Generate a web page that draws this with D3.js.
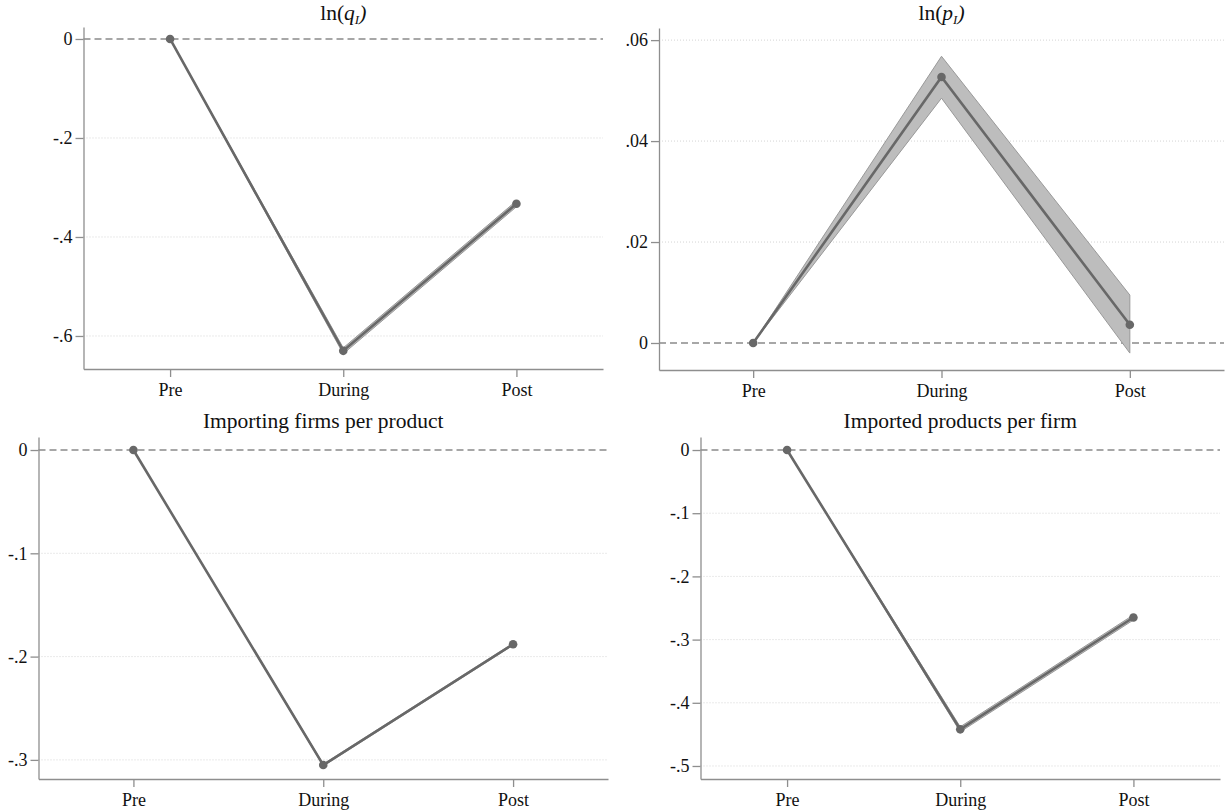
<!DOCTYPE html>
<html>
<head>
<meta charset="utf-8">
<script src="https://cdn.jsdelivr.net/npm/d3@7"></script>
<style>
  body { margin: 0; background: #fff; }
  svg { display: block; font-family: "Liberation Serif", "DejaVu Serif", serif; }
</style>
</head>
<body>
<svg id="chart" width="1227" height="812"></svg>
<script>
// ------------------------------------
// Data
// ------------------------------------
const periods = ["Pre", "During", "Post"];

const qEst = [0, -0.630, -0.333];
const qLo  = [0, -0.636, -0.339];
const qHi  = [0, -0.624, -0.327];
const qTicks = [0, -0.2, -0.4, -0.6];
const qTickLabels = ["0", "-.2", "-.4", "-.6"];

const pEst = [0, 0.0527, 0.0036];
const pLo  = [0, 0.0485, -0.0020];
const pHi  = [0, 0.0568, 0.0095];
const pTicks = [0, 0.02, 0.04, 0.06];
const pTickLabels = ["0", ".02", ".04", ".06"];

const firmsEst = [0, -0.305, -0.188];
const firmsLo  = [0, -0.306, -0.189];
const firmsHi  = [0, -0.304, -0.187];
const firmsTicks = [0, -0.1, -0.2, -0.3];
const firmsTickLabels = ["0", "-.1", "-.2", "-.3"];

const prodEst = [0, -0.442, -0.265];
const prodLo  = [0, -0.446, -0.269];
const prodHi  = [0, -0.438, -0.261];
const prodTicks = [0, -0.1, -0.2, -0.3, -0.4, -0.5];
const prodTickLabels = ["0", "-.1", "-.2", "-.3", "-.4", "-.5"];

// ------------------------------------
// Panels (layout only)
// ------------------------------------
const panels = [
  { title: "q", est: qEst, lo: qLo, hi: qHi, ticks: qTicks, labels: qTickLabels,
    x0: 83.5, x1: 603, y0: 369, y1: 27, dom: [-0.6667, 0.0242], titleY: 20 },
  { title: "p", est: pEst, lo: pLo, hi: pHi, ticks: pTicks, labels: pTickLabels,
    x0: 659, x1: 1224, y0: 370, y1: 28, dom: [-0.00535, 0.0624], titleY: 20 },
  { title: "Importing firms per product", est: firmsEst, lo: firmsLo, hi: firmsHi,
    ticks: firmsTicks, labels: firmsTickLabels,
    x0: 38.5, x1: 608, y0: 779, y1: 437, dom: [-0.3185, 0.0126], titleY: 428 },
  { title: "Imported products per firm", est: prodEst, lo: prodLo, hi: prodHi,
    ticks: prodTicks, labels: prodTickLabels,
    x0: 700.5, x1: 1220, y0: 779, y1: 437, dom: [-0.5206, 0.0206], titleY: 428 }
];

const svg = d3.select("#chart");
const axisColor = "#8e8e8e";
const lineColor = "#686868";

panels.forEach(p => {
  const x = d3.scaleLinear().domain([0.5, 3.5]).range([p.x0, p.x1]);
  const y = d3.scaleLinear().domain(p.dom).range([p.y0, p.y1]);
  const g = svg.append("g");

  // grid lines (dotted) and zero line (dashed)
  p.ticks.forEach(t => {
    g.append("line")
      .attr("x1", p.x0).attr("x2", p.x1)
      .attr("y1", y(t)).attr("y2", y(t))
      .attr("stroke", t === 0 ? "#8a8a8a" : "#d4d4d4")
      .attr("stroke-width", t === 0 ? 1.4 : 1)
      .attr("stroke-dasharray", t === 0 ? "7,4" : "1,2");
  });

  // Y axis
  const yAxis = g.append("g")
    .attr("transform", `translate(${p.x0},0)`)
    .call(d3.axisLeft(y).tickValues(p.ticks).tickSize(8).tickSizeOuter(0)
      .tickFormat((d, i) => p.labels[i]));
  yAxis.select(".domain").attr("stroke", axisColor).attr("stroke-width", 1.3);
  yAxis.selectAll(".tick line").attr("stroke", axisColor).attr("stroke-width", 1.3);
  yAxis.selectAll(".tick text")
    .attr("x", -11)
    .style("font-family", "Liberation Serif, serif")
    .style("font-size", "18px")
    .attr("fill", "#111");

  // X axis
  const xAxis = g.append("g")
    .attr("transform", `translate(0,${p.y0})`)
    .call(d3.axisBottom(x).tickValues([1, 2, 3]).tickSize(8).tickSizeOuter(0)
      .tickFormat((d, i) => periods[i]));
  xAxis.select(".domain").attr("stroke", axisColor).attr("stroke-width", 1.3);
  xAxis.selectAll(".tick line").attr("stroke", axisColor).attr("stroke-width", 1.3);
  xAxis.selectAll(".tick text")
    .attr("y", 14)
    .style("font-family", "Liberation Serif, serif")
    .style("font-size", "18px")
    .attr("fill", "#111");

  const rows = periods.map((d, i) => ({ i: i + 1, est: p.est[i], lo: p.lo[i], hi: p.hi[i] }));

  // confidence band
  g.append("path")
    .datum(rows)
    .attr("fill", "#bdbdbd")
    .attr("stroke", "#999")
    .attr("stroke-width", 1)
    .attr("d", d3.area().x(d => x(d.i)).y0(d => y(d.lo)).y1(d => y(d.hi)));

  // estimate line
  g.append("path")
    .datum(rows)
    .attr("fill", "none")
    .attr("stroke", lineColor)
    .attr("stroke-width", 2.6)
    .attr("d", d3.line().x(d => x(d.i)).y(d => y(d.est)));

  g.selectAll("circle.pt")
    .data(rows)
    .join("circle")
    .attr("class", "pt")
    .attr("cx", d => x(d.i))
    .attr("cy", d => y(d.est))
    .attr("r", 4.3)
    .attr("fill", lineColor);

  // title
  const cx = (p.x0 + p.x1) / 2;
  const t = svg.append("text")
    .attr("x", cx)
    .attr("y", p.titleY)
    .attr("text-anchor", "middle")
    .style("font-size", "21.5px")
    .attr("fill", "#111");
  if (p.title === "q" || p.title === "p") {
    t.append("tspan").text("ln(");
    t.append("tspan").style("font-style", "italic").text(p.title);
    t.append("tspan").style("font-style", "italic").style("font-size", "13px")
      .attr("dy", 4).text("I");
    t.append("tspan").style("font-style", "italic").attr("dy", -4).text(")");
  } else {
    t.text(p.title);
  }
});
</script>
</body>
</html>
